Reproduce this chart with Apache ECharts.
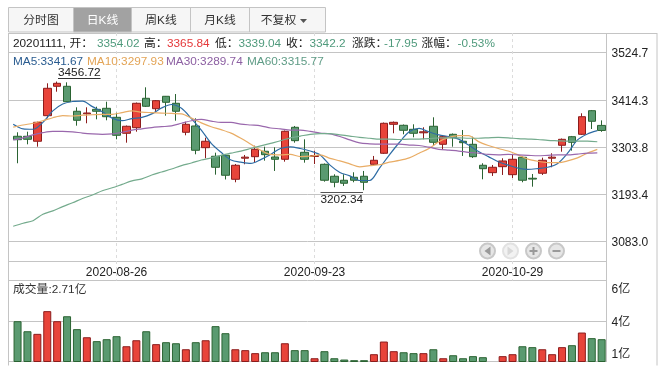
<!DOCTYPE html>
<html><head><meta charset="utf-8">
<script src="https://cdn.jsdelivr.net/npm/echarts@6/dist/echarts.min.js"></script>
<style>html,body{margin:0;padding:0;background:#fff}#c{width:665px;height:373px}</style>
</head><body><div id="c"></div>
<script>
const dates=['2020-08-12','2020-08-13','2020-08-14','2020-08-17','2020-08-18','2020-08-19','2020-08-20','2020-08-21','2020-08-24','2020-08-25','2020-08-26','2020-08-27','2020-08-28','2020-08-31','2020-09-01','2020-09-02','2020-09-03','2020-09-04','2020-09-07','2020-09-08','2020-09-09','2020-09-10','2020-09-11','2020-09-14','2020-09-15','2020-09-16','2020-09-17','2020-09-18','2020-09-21','2020-09-22','2020-09-23','2020-09-24','2020-09-25','2020-09-28','2020-09-29','2020-09-30','2020-10-09','2020-10-12','2020-10-13','2020-10-14','2020-10-15','2020-10-16','2020-10-19','2020-10-20','2020-10-21','2020-10-22','2020-10-23','2020-10-26','2020-10-27','2020-10-28','2020-10-29','2020-10-30','2020-11-02','2020-11-03','2020-11-04','2020-11-05','2020-11-06','2020-11-09','2020-11-10','2020-11-11'];
const shownDates=['2020-08-26','2020-09-23','2020-10-29'];
// open, close, low, high
const candles=[
[3328.6,3320.6,3265.4,3337.9],[3328.6,3321.5,3309.8,3339.3],[3316.9,3361.3,3304.2,3362.7],[3376.8,3440.9,3370.7,3452.6],[3445.6,3452.6,3432.9,3456.72],
[3445.6,3409.5,3408.8,3454.9],[3387.1,3366,3353.4,3396.4],[3381.2,3383.1,3359,3396.4],[3391.7,3387.1,3368.3,3397.8],[3394.1,3374.4,3366,3409.5],
[3373,3330.9,3321.5,3383.8],[3335.6,3352,3313.6,3353.8],[3348.7,3405.8,3339.3,3407.6],[3417.5,3398.8,3397.1,3443.2],[3393.1,3411.9,3383.8,3413.5],
[3422.2,3408.1,3376.8,3422.9],[3405.8,3387.1,3365.1,3427.5],[3337.9,3356.6,3330.9,3362.7],[3352.7,3295.8,3286.4,3370.7],[3301.9,3316.9,3277.1,3325.3],
[3281.8,3256,3238.7,3290.2],[3284.1,3237.3,3227.5,3287.1],[3227.9,3260.7,3220.9,3263.7],[3277.3,3279.7,3263,3284.8],[3280.8,3298.1,3266.8,3306.6],
[3293.5,3285.5,3271.5,3304.2],[3280.1,3274.7,3247.4,3302.8],[3274.7,3340.3,3269.1,3342.1],[3349.6,3318.3,3313.6,3352.7],[3291.1,3274.7,3266.8,3321.5],
[3281.3,3283.6,3263.7,3294.9],[3263,3225.6,3222.3,3264.9],[3235,3220.9,3209.2,3239.6],[3225.6,3218.6,3212.3,3239.6],[3232.6,3225.6,3220.9,3244.3],
[3235,3220.9,3202.34,3247.4],[3263,3272.4,3261.4,3282.5],[3288.8,3359,3287.1,3360.8],[3356.6,3361.3,3335.6,3363.2],[3354.3,3342.6,3333.2,3356.2],
[3344.9,3335.6,3326.2,3356.6],[3336.7,3339.1,3321.5,3349.6],[3352,3314.5,3308.2,3373],[3309.8,3327.6,3296.5,3331.6],[3333.2,3325.3,3304.2,3335.1],
[3316.9,3313.6,3282.5,3343.3],[3309.8,3280.8,3277.8,3327.6],[3260.7,3252.7,3227.9,3265.4],[3243.4,3256,3235.7,3261.4],[3257.4,3270.8,3238,3277.1],
[3238.7,3274.7,3231,3284.8],[3279.4,3225.6,3220.9,3281.3],[3230.3,3228.4,3210.6,3240.3],[3242,3272.4,3238,3278.5],[3277.3,3279.7,3256,3288.8],
[3307.5,3321.5,3292.5,3323.4],[3327.6,3314.5,3294.9,3329.3],[3333.2,3374.4,3331.6,3382.4],[3388.5,3363.7,3345.6,3390.1],[3354.02,3342.2,3339.04,3365.84]];
const ma5=[3357,3346,3345,3361,3388,3404,3410,3411,3398,3386,3371,3365,3370,3373,3381,3395,3403,3394,3370,3343,3312,3291,3273,3268,3265,3274,3286,3300,3304,3300,3294,3285,3261,3244,3236,3225,3225,3254,3285,3314,3339,3347,3339,3332,3328,3322,3308,3293,3281,3269,3261,3254,3251,3253,3256,3265,3289,3320,3334,3341.67];
const ma10=[3350,3355,3359,3365,3372,3377,3376,3378,3379,3380,3380,3384,3388,3385,3384,3383,3382,3381,3371,3360,3351,3344,3336,3324,3310,3296,3286,3285,3286,3281,3282,3285,3277,3271,3264,3257,3260,3262,3268,3272,3278,3289,3300,3316,3326,3330,3330,3316,3307,3300,3294,3285,3275,3270,3267,3267,3271,3278,3289,3297.93];
const ma30=[3320,3325,3332,3337,3340,3340,3339,3336,3334,3333,3334,3338,3343,3346,3349,3351,3353,3359,3365,3368,3364,3361,3361,3357,3355,3353,3348,3346,3343,3343,3340,3336,3334,3328,3320,3313,3311,3310,3310,3310,3308,3307,3303,3298,3296,3294,3291,3289,3286,3285,3286,3285,3284,3283,3284,3285,3285,3287,3289,3289.74];
const ma60=[3118,3125,3131,3146,3154,3164,3173,3183,3191,3201,3208,3216,3224,3229,3238,3245,3252,3260,3266,3273,3278,3284,3289,3294,3300,3306,3312,3318,3325,3329,3333,3335,3335,3332,3329,3326,3324,3322,3322,3321,3322,3322,3323,3325,3325,3325,3324,3324,3325,3326,3325,3323,3322,3321,3319,3318,3317,3317,3317,3315.77];
const volume=[4.09,3.32,3.12,4.86,4.09,4.47,3.48,2.86,2.56,2.71,2.94,2.17,2.63,3.32,2.33,2.48,2.40,1.94,2.48,2.63,3.71,3.17,1.94,1.87,1.64,1.71,1.71,2.40,1.87,1.87,1.25,1.79,1.25,1.15,1.10,1.10,1.56,2.53,1.79,1.71,1.64,1.64,1.94,1.25,1.48,1.25,1.41,1.33,1.02,1.41,1.56,2.17,2.10,1.94,1.56,2.10,2.25,3.22,2.79,2.71];
const priceTicks=['3083.0','3193.4','3303.8','3414.3','3524.7'];
const volumeTicks=['1亿','4亿','6亿'];
const tabs=['分时图','日K线','周K线','月K线','不复权'];
const maLabels=['MA5:3341.67','MA10:3297.93','MA30:3289.74','MA60:3315.77'];
const volumeLabel='成交量:2.71亿';
const highLabel='3456.72', lowLabel='3202.34';

const FF='"Liberation Sans","Noto Sans CJK SC",sans-serif';
const C={up:'#e8443a',upB:'#8c1c1c',dn:'#5a9a70',dnB:'#2a6332',line:'#c4c4c4',txt:'#222',
 red:'#e5393a',green:'#4f9a7c',m5:'#2e6ca4',m10:'#e9ad66',m30:'#9a68ad',m60:'#74ab8d'};

const g=[];
const hl=(x1,x2,y,c)=>g.push({type:'line',z:-5,silent:true,shape:{x1,y1:y,x2,y2:y},style:{stroke:c||C.line,lineWidth:1}});
const vl=(x,y1,y2,c)=>g.push({type:'line',z:-5,silent:true,shape:{x1:x,y1,x2:x,y2},style:{stroke:c||C.line,lineWidth:1}});
const tx=(x,y,text,fill,extra)=>g.push({type:'text',z:10,silent:true,x,y,style:Object.assign({text,fill:fill||C.txt,font:'11.8px '+FF,textVerticalAlign:'middle'},extra||{})});

// tab bar
const tabX=[8.5,73.5,131.5,190.5,249.5,325.5];
g.push({type:'rect',z:-6,shape:{x:8.5,y:7.5,width:317,height:24.5},style:{fill:'#f6f6f6',stroke:C.line,lineWidth:1}});
g.push({type:'rect',z:-5,shape:{x:73.5,y:7.5,width:58,height:24.5},style:{fill:'#a2a2a2',stroke:C.line,lineWidth:1}});
tabX.slice(1,5).forEach(x=>vl(x,7.5,32));
tabs.forEach((t,i)=>{
  const cx=(tabX[i]+tabX[i+1])/2-(i===4?9:0);
  tx(cx,20.5,t,i===1?'#fff':'#333',{textAlign:'center'});
});
g.push({type:'polygon',z:10,shape:{points:[[300,19],[307,19],[303.5,23]]},style:{fill:'#555'}});

// frame
hl(8.5,657,33.5);
vl(8.5,33,365.5);
vl(606.5,33,362);
vl(657,33,365.5);
hl(8.5,606.5,261.5);

// info row
[[13,'20201111, 开：'],[97,'3354.02',C.green],[144,'高：'],[167,'3365.84',C.red],[215,'低：'],[238.5,'3339.04',C.green],[286,'收：'],[309.5,'3342.2',C.green],[352,'涨跌：'],[384,'-17.95',C.green],[421.5,'涨幅：'],[457.5,'-0.53%',C.green]]
 .forEach(r=>tx(r[0],43.5,r[1],r[2]));
// MA row
[[13,'#2a5c90'],[87,'#e3a456'],[166,'#8c5fa2'],[247,'#5f9c86']]
 .forEach((r,i)=>tx(r[0],61.5,maLabels[i],r[1]));
// annotations
tx(58,73,highLabel,'#222'); hl(58,100.5,78.5,'#333');
tx(320.5,199.5,lowLabel,'#222'); hl(320.5,363,192.5,'#555');
tx(13,290,volumeLabel,'#333');

// nav buttons
[487.5,510.5,533.5,556.5].forEach((x,i)=>{
  const pale=i===1;
  g.push({type:'circle',z:8,shape:{cx:x,cy:251,r:7.5},style:{fill:pale?'#f2f2f2':'#e6e6e6',stroke:pale?'#e2e2e2':'#c8c8c8',lineWidth:2}});
  const col=pale?'#d8d8d8':'#9a9a9a';
  if(i===0)g.push({type:'polygon',z:9,shape:{points:[[x+3,246.5],[x+3,255.5],[x-3,251]]},style:{fill:col}});
  if(i===1)g.push({type:'polygon',z:9,shape:{points:[[x-3,246.5],[x-3,255.5],[x+3,251]]},style:{fill:col}});
  if(i>=2)g.push({type:'rect',z:9,shape:{x:x-4,y:250,width:8,height:2},style:{fill:col}});
  if(i===2)g.push({type:'rect',z:9,shape:{x:x-1,y:247,width:2,height:8},style:{fill:col}});
});

const grids=[
 {left:8.5,width:598,top:52.5,height:189},   // 0 price ticks
 {left:12.6,width:594,top:52.5,height:208.5},// 1 candles
 {left:13.2,width:584.1,top:52.5,height:208.5},// 2 MA lines
 {left:17.55,width:584.1,top:33,height:247.5},// 3 date axis
 {left:8.5,width:598,top:280.5,height:81},   // 4 volume ticks
 {left:12.6,width:594,top:280.5,height:81}   // 5 volume
];
const priceMin=3036.6, priceMax=3524.7;
const hiddenCat=(i,gap)=>({type:'category',gridIndex:i,data:dates,boundaryGap:gap,show:false});
const hiddenVal=(i,min,max)=>({type:'value',gridIndex:i,min,max,show:false,splitLine:{show:false}});
const tickAxis=(i,data,extra)=>Object.assign({type:'category',gridIndex:i,data,boundaryGap:false,position:'right',
  axisLine:{show:false},axisTick:{show:true,length:4,lineStyle:{color:C.line},interval:0},
  splitLine:{show:true,interval:0,lineStyle:{color:C.line,width:1}},
  axisLabel:{color:'#222',fontSize:12,fontFamily:FF,margin:5,interval:0,
    formatter:v=>'{p|'+v+'}',rich:{p:{fontSize:12,fontFamily:FF,color:'#222',padding:[3,0,0,0]}}}},extra||{});

const opt={
 animation:false,
 backgroundColor:'#fff',
 grid:grids,
 xAxis:[
  {type:'value',gridIndex:0,show:false,min:0,max:1},
  hiddenCat(1,true),
  hiddenCat(2,false),
  {type:'category',gridIndex:3,data:dates,boundaryGap:false,
   axisLine:{show:false},axisTick:{show:false},
   splitLine:{show:true,interval:(i,v)=>shownDates.includes(v),lineStyle:{color:'#dcdcdc',type:[3,3],width:1}},
   axisLabel:{inside:true,margin:2,color:'#222',fontSize:12,fontFamily:FF,interval:(i,v)=>shownDates.includes(v)}},
  {type:'value',gridIndex:4,show:false,min:0,max:1},
  hiddenCat(5,true)
 ],
 yAxis:[
  tickAxis(0,priceTicks),
  hiddenVal(1,priceMin,priceMax),
  hiddenVal(2,priceMin,priceMax),
  {type:'value',gridIndex:3,show:false,splitLine:{show:false}},
  tickAxis(4,volumeTicks,{axisLabel:{color:'#222',fontSize:12,fontFamily:FF,margin:5,interval:0,
      formatter:(v,i)=>'{l'+i+'|'+v+'}',
      rich:{l0:{fontSize:12,fontFamily:FF,color:'#222',padding:[0,0,14,0]},l1:{fontSize:12,fontFamily:FF,color:'#222',padding:[3,0,0,0]},l2:{fontSize:12,fontFamily:FF,color:'#222',padding:[19,0,0,0]}}},
    axisTick:{show:true,length:4,lineStyle:{color:C.line},interval:i=>i!==2}}),
  hiddenVal(5,1,7.21)
 ],
 series:[
  {type:'candlestick',name:'K',xAxisIndex:1,yAxisIndex:1,data:candles,barWidth:8,z:3,
   itemStyle:{color:C.up,color0:C.dn,borderColor:C.upB,borderColor0:C.dnB,borderWidth:1}},
  ...[['MA5',ma5,C.m5],['MA10',ma10,C.m10],['MA30',ma30,C.m30],['MA60',ma60,C.m60]].map(s=>({
    type:'line',name:s[0],xAxisIndex:2,yAxisIndex:2,data:s[1],smooth:0.3,showSymbol:false,z:4,
    lineStyle:{color:s[2],width:1.2}})),
  {type:'bar',name:'成交量',xAxisIndex:5,yAxisIndex:5,barWidth:8,z:3,
   data:volume.map((v,i)=>{const up=candles[i][1]>=candles[i][0];
     return {value:v,itemStyle:{color:up?C.up:C.dn,borderColor:up?C.upB:C.dnB,borderWidth:1}};})}
 ],
 graphic:g
};
echarts.init(document.getElementById('c'),null,{renderer:'canvas'}).setOption(opt);
</script></body></html>
